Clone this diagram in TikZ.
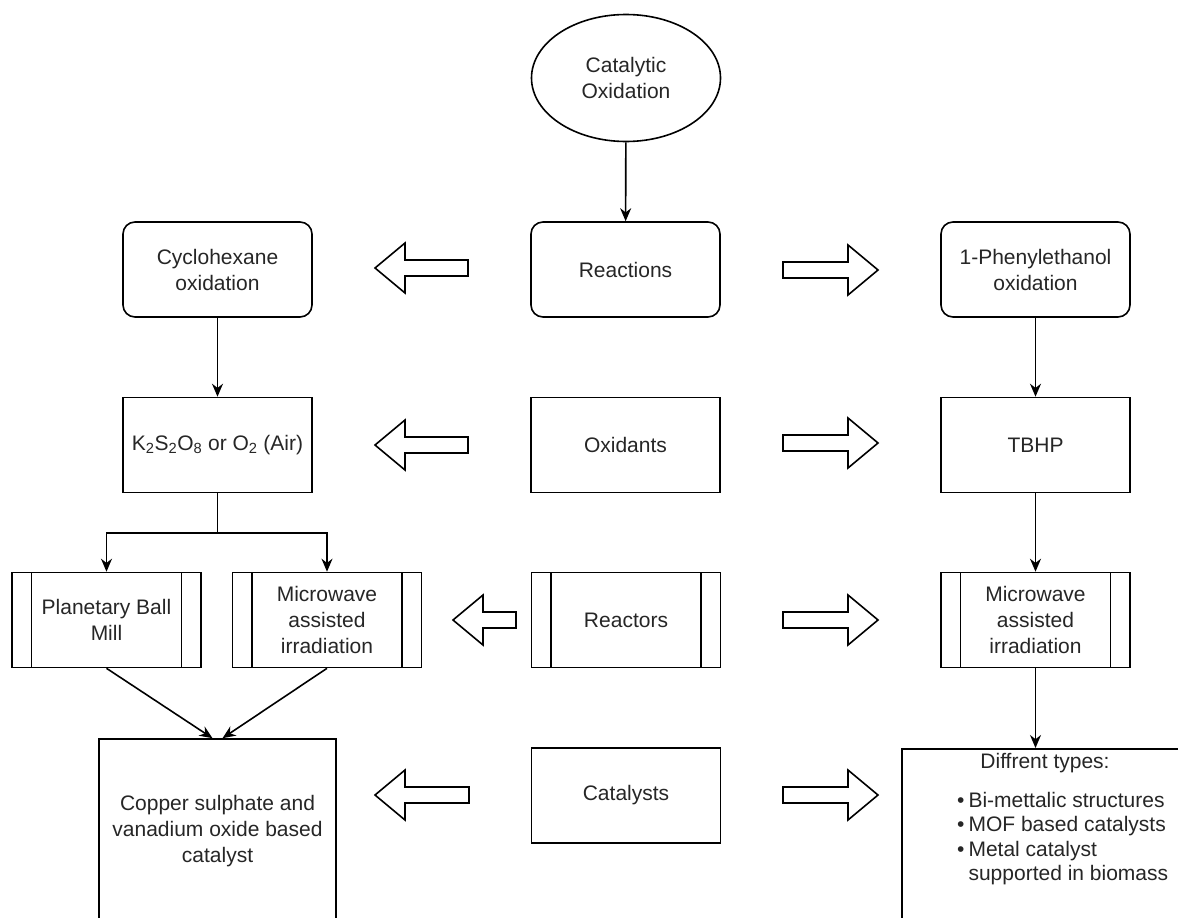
\documentclass[tikz,border=0pt]{standalone}
\usepackage{fontspec}
\setmainfont{Liberation Sans}
\usetikzlibrary{shapes.geometric,arrows.meta}
\begin{document}
\begin{tikzpicture}[x=1pt,y=-1pt,
  every node/.style={font=\fontsize{21}{26}\selectfont, text=black!85},
  box/.style={draw, line width=1.6pt, minimum width=189pt, minimum height=95pt, inner sep=0pt, align=center},
  rbox/.style={box, rounded corners=12pt},
  proc/.style={box, path picture={\draw[line width=1.6pt]
      ([xshift=19.5pt]path picture bounding box.north west) -- ([xshift=19.5pt]path picture bounding box.south west)
      ([xshift=-19.5pt]path picture bounding box.north east) -- ([xshift=-19.5pt]path picture bounding box.south east);}},
  conn/.style={line width=1.6pt, -{Stealth[length=13pt,width=11pt]}},
  plain/.style={line width=1.6pt},
  blk/.style={draw, line width=1.6pt, fill=white, line join=miter},
  larrow/.pic={\draw[blk] (0,0) -- (30,-25) -- (30,-8) -- (#1,-8) -- (#1,8) -- (30,8) -- (30,25) -- cycle;},
  rarrow/.pic={\draw[blk] (0,0) -- (-30,-25) -- (-30,-8) -- (-#1,-8) -- (-#1,8) -- (-30,8) -- (-30,25) -- cycle;},
]
\useasboundingbox (0,0) rectangle (1178,918);
\clip (0,0) rectangle (1178,918);
\fill[white] (0,0) rectangle (1178,918);

% nodes
\node[draw, ellipse, line width=1.6pt, minimum width=189pt, minimum height=127pt, inner sep=0pt, align=center] (cat) at (626,78) {Catalytic\\Oxidation};
\node[rbox] (cyc) at (217.5,269.5) {Cyclohexane\\oxidation};
\node[rbox] (rea) at (625.5,269.5) {Reactions};
\node[rbox] (phe) at (1035.5,269.5) {1-Phenylethanol\\oxidation};
\node[box] (k2) at (217.5,445) {K\textsubscript{2}S\textsubscript{2}O\textsubscript{8} or O\textsubscript{2} (Air)};
\node[box] (oxi) at (625.5,445) {Oxidants};
\node[box] (tbhp) at (1035.5,445) {TBHP};
\node[proc] (pbm) at (106.5,620) {Planetary Ball\\Mill};
\node[proc] (mwl) at (327,620) {Microwave\\assisted\\irradiation};
\node[proc] (rct) at (626,620) {Reactors};
\node[proc] (mwr) at (1035.5,620) {Microwave\\assisted\\irradiation};
\node[box, minimum width=237pt, minimum height=184pt] (cu) at (217.5,831) {Copper sulphate and\\vanadium oxide based\\catalyst};
\node[box] (cts) at (626,795.5) {Catalysts};
\node[box, minimum width=300pt, minimum height=200pt, anchor=north west] (typ) at (901,748) {};
\node (typh) at (1045,763) {Diffrent types:};
\node[anchor=north west, inner sep=0pt, font=\fontsize{21}{24.5}\selectfont] (typl) at (957,790)
  {\begin{tabular}{@{}l@{\hspace{4pt}}l@{}}
   \textbullet & Bi-mettalic structures\\
   \textbullet & MOF based catalysts\\
   \textbullet & Metal catalyst\\
   & supported in biomass
   \end{tabular}};

% connectors
\draw[conn] (cat) -- (rea);
\draw[conn] (cyc) -- (k2);
\draw[conn] (phe) -- (tbhp);
\coordinate (split) at (217.5,533);
\draw[plain] (k2.south) -- (split);
\draw[conn] (split) -| (pbm.north);
\draw[conn] (split) -| (mwl.north);
\draw[conn] (tbhp) -- (mwr);
\draw[conn] (pbm.south) -- ([xshift=-5pt]cu.north);
\draw[conn] (mwl.south) -- ([xshift=5pt]cu.north);
\draw[conn] (mwr.south) -- (mwr.south |- typ.north);

% block arrows
\pic at (375,268) {larrow=93};
\pic at (878,270) {rarrow=95};
\pic at (375,445) {larrow=93};
\pic at (878,443) {rarrow=95};
\pic at (453,620) {larrow=63};
\pic at (878,620) {rarrow=95};
\pic at (375,795) {larrow=94};
\pic at (878,795) {rarrow=95};
\end{tikzpicture}
\end{document}
